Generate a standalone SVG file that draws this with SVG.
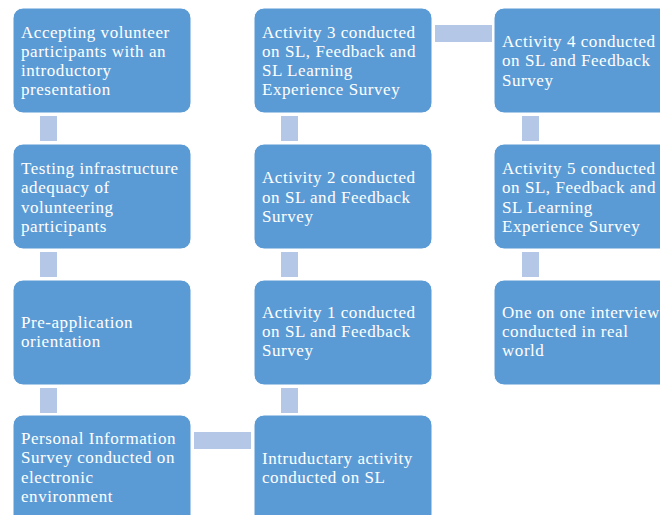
<svg xmlns="http://www.w3.org/2000/svg" width="660" height="515" viewBox="0 0 660 515">
<style>
.box{fill:#5B9BD5;stroke:#FFFFFF;stroke-width:1}
.con{fill:#B4C7E7}
text{font-family:"Liberation Serif","Times New Roman",serif;font-size:17px;letter-spacing:0.55px;fill:#FFFFFF}
</style>
<rect width="660" height="515" fill="#FFFFFF"/>
<g id="connectors">
<rect class="con" x="40" y="116" width="17" height="25"/>
<rect class="con" x="40" y="252" width="17" height="25"/>
<rect class="con" x="40" y="388" width="17" height="25"/>
<rect class="con" x="194" y="432" width="57" height="17"/>
<rect class="con" x="281" y="388" width="17" height="25"/>
<rect class="con" x="281" y="252" width="17" height="25"/>
<rect class="con" x="281" y="116" width="17" height="25"/>
<rect class="con" x="435" y="25" width="57" height="17"/>
<rect class="con" x="522" y="116" width="17" height="25"/>
<rect class="con" x="522" y="252" width="17" height="25"/>
</g>
<g id="n1">
<rect class="box" x="13" y="8" width="178" height="105" rx="10"/>
<text x="21" y="38">Accepting volunteer</text>
<text x="21" y="57">participants with an</text>
<text x="21" y="76">introductory</text>
<text x="21" y="95">presentation</text>
</g>
<g id="n2">
<rect class="box" x="13" y="144" width="178" height="105" rx="10"/>
<text x="21" y="174">Testing infrastructure</text>
<text x="21" y="193">adequacy of</text>
<text x="21" y="213">volunteering</text>
<text x="21" y="232">participants</text>
</g>
<g id="n3">
<rect class="box" x="13" y="280" width="178" height="105" rx="10"/>
<text x="21" y="328">Pre-application</text>
<text x="21" y="347">orientation</text>
</g>
<g id="n4">
<rect class="box" x="13" y="415" width="178" height="110" rx="10"/>
<text x="21" y="444">Personal Information</text>
<text x="21" y="463">Survey conducted on</text>
<text x="21" y="483">electronic</text>
<text x="21" y="502">environment</text>
</g>
<g id="n5">
<rect class="box" x="254" y="415" width="178" height="110" rx="10"/>
<text x="262" y="464">Intruductary activity</text>
<text x="262" y="483">conducted on SL</text>
</g>
<g id="n6">
<rect class="box" x="254" y="280" width="178" height="105" rx="10"/>
<text x="262" y="318">Activity 1 conducted</text>
<text x="262" y="337">on SL and Feedback</text>
<text x="262" y="356">Survey</text>
</g>
<g id="n7">
<rect class="box" x="254" y="144" width="178" height="105" rx="10"/>
<text x="262" y="183">Activity 2 conducted</text>
<text x="262" y="203">on SL and Feedback</text>
<text x="262" y="222">Survey</text>
</g>
<g id="n8">
<rect class="box" x="254" y="8" width="178" height="105" rx="10"/>
<text x="262" y="38">Activity 3 conducted</text>
<text x="262" y="57">on SL, Feedback and</text>
<text x="262" y="76">SL Learning</text>
<text x="262" y="95">Experience Survey</text>
</g>
<g id="n9">
<rect class="box" x="494" y="8" width="178" height="105" rx="10"/>
<text x="502" y="47">Activity 4 conducted</text>
<text x="502" y="66">on SL and Feedback</text>
<text x="502" y="86">Survey</text>
</g>
<g id="n10">
<rect class="box" x="494" y="144" width="178" height="105" rx="10"/>
<text x="502" y="174">Activity 5 conducted</text>
<text x="502" y="193">on SL, Feedback and</text>
<text x="502" y="213">SL Learning</text>
<text x="502" y="232">Experience Survey</text>
</g>
<g id="n11">
<rect class="box" x="494" y="280" width="178" height="105" rx="10"/>
<text x="502" y="318">One on one interview</text>
<text x="502" y="337">conducted in real</text>
<text x="502" y="356">world</text>
</g>
</svg>
